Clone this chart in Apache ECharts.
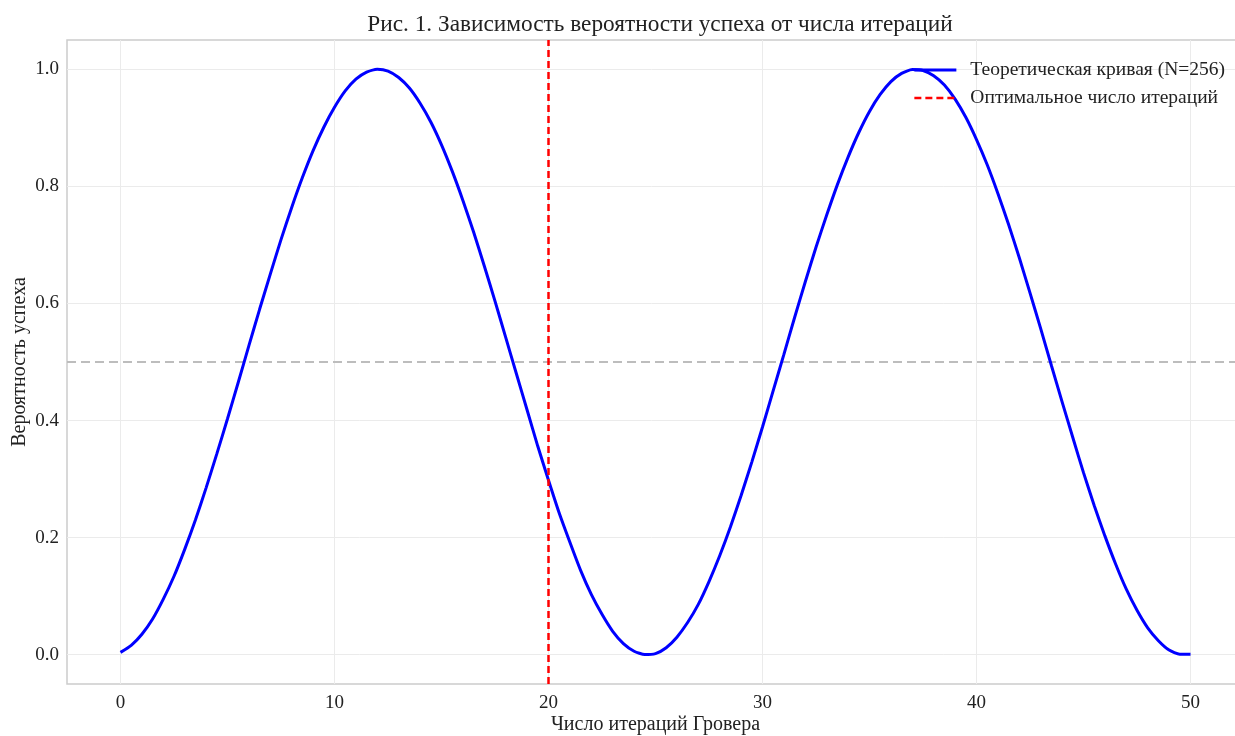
<!DOCTYPE html>
<html>
<head>
<meta charset="utf-8">
<title>Grover</title>
<script src="https://cdn.jsdelivr.net/npm/echarts@6/dist/echarts.min.js"></script>
<style>
  html, body { margin: 0; padding: 0; background: #fff; }
  #chart { width: 1235px; height: 736px; }
</style>
</head>
<body>
<div id="chart"></div>
<script>
// iterations and success probability
var iterations = [0,0.5,1,1.5,2,2.5,3,3.5,4,4.5,5,5.5,6,6.5,7,7.5,8,8.5,9,9.5,
    10,10.5,11,11.5,12,12.5,13,13.5,14,14.5,15,15.5,16,16.5,17,17.5,18,18.5,19,19.5,
    20,20.5,21,21.5,22,22.5,23,23.5,24,24.5,25,25.5,26,26.5,27,27.5,28,28.5,29,29.5,
    30,30.5,31,31.5,32,32.5,33,33.5,34,34.5,35,35.5,36,36.5,37,37.5,38,38.5,39,39.5,
    40,40.5,41,41.5,42,42.5,43,43.5,44,44.5,45,45.5,46,46.5,47,47.5,48,48.5,49,49.5,50];
var probability = [0.004,0.016,0.035,0.061,0.095,0.134,0.180,0.230,0.285,0.343,
    0.403,0.465,0.528,0.590,0.650,0.709,0.764,0.815,0.861,0.901,
    0.935,0.963,0.983,0.995,1.000,0.997,0.986,0.968,0.942,0.910,
    0.871,0.826,0.776,0.722,0.664,0.604,0.542,0.480,0.418,0.356,
    0.298,0.242,0.192,0.144,0.103,0.069,0.040,0.019,0.006,0.0002,
    0.002,0.012,0.030,0.055,0.086,0.125,0.169,0.218,0.272,0.329,
    0.389,0.451,0.513,0.576,0.637,0.696,0.751,0.803,0.850,0.892,
    0.928,0.957,0.979,0.993,0.9995,0.998,0.989,0.973,0.949,0.918,
    0.880,0.837,0.788,0.735,0.678,0.618,0.557,0.494,0.432,0.371,
    0.311,0.255,0.203,0.155,0.112,0.076,0.046,0.024,0.008,0.001,0.001];
var xTicks = [0, 10, 20, 30, 40, 50];
var yTicks = [0, 0.2, 0.4, 0.6, 0.8, 1.0];
var optimalIter = 20;
var halfLevel = 0.5;

var font = '"Liberation Serif", "DejaVu Serif", serif';
var chart = echarts.init(document.getElementById('chart'));

var curve = iterations.map(function(k, i) { return [k, probability[i]]; });

var option = {
    backgroundColor: '#fff',
    animation: false,
    textStyle: { fontFamily: font },
    title: {
        text: 'Рис. 1. Зависимость вероятности успеха от числа итераций',
        left: 655,
        textAlign: 'center',
        top: 8,
        textStyle: { fontFamily: font, fontSize: 23.3, fontWeight: 'normal', color: '#222' }
    },
    legend: {
        right: 5,
        top: 55,
        orient: 'vertical',
        itemWidth: 42,
        itemHeight: 14,
        itemGap: 8,
        itemStyle: { opacity: 0 },
        textStyle: { fontFamily: font, fontSize: 19.5, color: '#222', padding: [0, 0, 0, 9] },
        data: [
            { name: 'Теоретическая кривая (N=256)', lineStyle: { width: 3 } },
            { name: 'Оптимальное число итераций', lineStyle: { width: 2.5 } }
        ]
    },
    grid: {
        left: 67, width: 1177, top: 40, bottom: 52,
        outerBoundsMode: 'none',
        show: true,
        borderColor: '#cccccc',
        borderWidth: 1.5
    },
    xAxis: {
        type: 'value',
        min: -2.5,
        max: 52.5,
        name: 'Число итераций Гровера',
        nameLocation: 'middle',
        nameGap: 31,
        nameMoveOverlap: false,
        nameTextStyle: { fontFamily: font, fontSize: 20, color: '#222' },
        axisLine: { show: false },
        axisTick: { show: false, customValues: xTicks },
        axisLabel: { customValues: xTicks, fontFamily: font, fontSize: 19, color: '#222', margin: 10 },
        splitLine: { show: true, lineStyle: { color: '#ebebeb', width: 1 } }
    },
    yAxis: {
        type: 'value',
        min: -0.05,
        max: 1.05,
        name: 'Вероятность успеха',
        nameLocation: 'middle',
        nameGap: 37,
        nameMoveOverlap: false,
        nameTextStyle: { fontFamily: font, fontSize: 20, color: '#222' },
        axisLine: { show: false },
        axisTick: { show: false, customValues: yTicks },
        axisLabel: {
            customValues: yTicks, fontFamily: font, fontSize: 19, color: '#222', margin: 8,
            formatter: function(v) { return v.toFixed(1); }
        },
        splitLine: { show: true, lineStyle: { color: '#ebebeb', width: 1 } }
    },
    series: [
        {
            name: 'Теоретическая кривая (N=256)',
            type: 'line',
            data: curve,
            smooth: 0.2,
            showSymbol: false,
            symbol: 'none',
            color: '#0000ff',
            lineStyle: { color: '#0000ff', width: 3 },
            z: 3,
            markLine: {
                silent: true,
                symbol: 'none',
                label: { show: false },
                lineStyle: { color: '#bdbdbd', type: [9, 5], width: 2 },
                data: [{ yAxis: halfLevel }],
                z: 1
            }
        },
        {
            name: 'Оптимальное число итераций',
            type: 'line',
            data: [],
            symbol: 'none',
            color: '#ff0000',
            lineStyle: { color: '#ff0000', type: [7, 4], width: 2.5 },
            z: 4,
            markLine: {
                silent: true,
                symbol: 'none',
                label: { show: false },
                lineStyle: { color: '#ff0000', type: [7, 4], width: 2.5 },
                data: [{ xAxis: optimalIter }]
            }
        }
    ]
};

chart.setOption(option);
</script>
</body>
</html>
